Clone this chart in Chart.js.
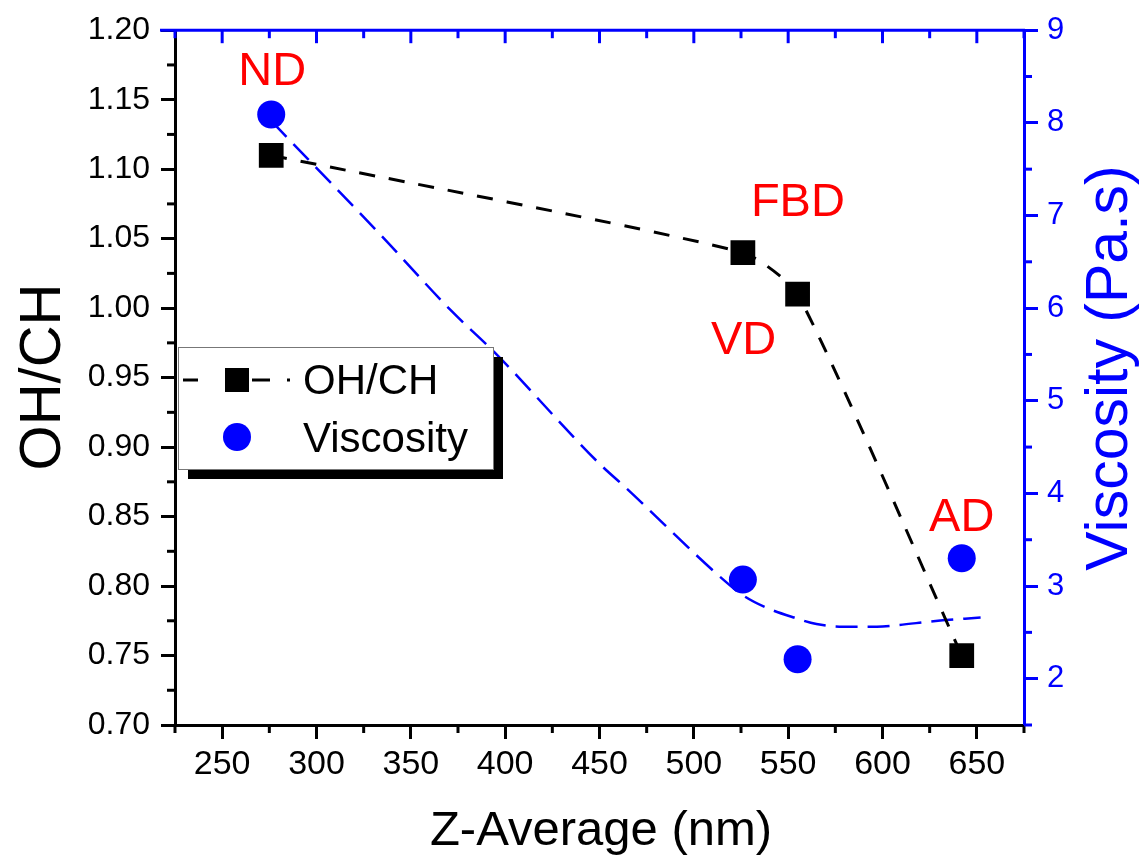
<!DOCTYPE html>
<html>
<head>
<meta charset="utf-8">
<script src="https://cdn.jsdelivr.net/npm/chart.js@4.4.1/dist/chart.umd.min.js"></script>
<style>
    html, body { margin: 0; padding: 0; background: #fff; }
    .wrap { position: relative; width: 1144px; height: 865px; }
</style>
</head>
<body>
<div class="wrap"><canvas id="zavgChart"></canvas></div>
<script>
const zAverage = [276, 526, 555, 642];
const ohCh = [1.11, 1.04, 1.01, 0.75];
const viscosity = [8.09, 3.07, 2.21, 3.30];
const sampleNames = ['ND', 'FBD', 'VD', 'AD'];

// blue dashed fit
const viscFitX = [276, 334, 371, 394, 450, 464, 515, 526, 538, 553, 565, 579, 597, 609, 627, 652];
const viscFitY = [8.02, 6.79, 5.98, 5.53, 4.32, 4.06, 3.08, 2.90, 2.77, 2.66, 2.59, 2.56, 2.56, 2.58, 2.62, 2.66];

const xTicks = [250, 300, 350, 400, 450, 500, 550, 600, 650];
const ohChTicks = [0.70, 0.75, 0.80, 0.85, 0.90, 0.95, 1.00, 1.05, 1.10, 1.15, 1.20];
const viscTicks = [2, 3, 4, 5, 6, 7, 8, 9];

const FONT = '"Liberation Sans", Arial, sans-serif';
const BLUE = '#0000ff';
const RED = '#ff0000';

function minorValues(majors, min, max) {
    const out = [];
    const half = (majors[1] - majors[0]) / 2;
    if (majors[0] - half >= min - 1e-9) out.push(majors[0] - half);
    for (let i = 0; i < majors.length - 1; i++) {
        out.push((majors[i] + majors[i + 1]) / 2);
    }
    const last = majors[majors.length - 1];
    if (last + half <= max + 1e-9) out.push(last + half);
    return out;
}

const decorPlugin = {
    id: 'decor',
    afterDraw(chart) {
        const { ctx, chartArea: area, scales } = chart;
        const xs = scales.x, yl = scales.y, yr = scales.y1;
        ctx.save();
        ctx.lineWidth = 3;
        ctx.setLineDash([]);

        // minor ticks, bottom
        ctx.strokeStyle = '#000';
        minorValues(xTicks, xs.min, xs.max).forEach((v) => {
            const px = xs.getPixelForValue(v);
            ctx.beginPath();
            ctx.moveTo(px, area.bottom);
            ctx.lineTo(px, area.bottom + 8);
            ctx.stroke();
        });
        // minor ticks, left
        minorValues(ohChTicks, yl.min, yl.max).forEach((v) => {
            const py = yl.getPixelForValue(v);
            ctx.beginPath();
            ctx.moveTo(area.left, py);
            ctx.lineTo(area.left - 8, py);
            ctx.stroke();
        });
        // minor ticks, right
        ctx.strokeStyle = BLUE;
        minorValues(viscTicks, yr.min, yr.max).forEach((v) => {
            const py = yr.getPixelForValue(v);
            ctx.beginPath();
            ctx.moveTo(area.right, py);
            ctx.lineTo(area.right + 8, py);
            ctx.stroke();
        });

        // top axis: blue line with inward ticks
        ctx.beginPath();
        ctx.moveTo(area.left - 15, area.top);
        ctx.lineTo(area.right + 1, area.top);
        ctx.stroke();
        xTicks.forEach((v) => {
            const px = xs.getPixelForValue(v);
            ctx.beginPath();
            ctx.moveTo(px, area.top);
            ctx.lineTo(px, area.top + 13);
            ctx.stroke();
        });
        minorValues(xTicks, xs.min, xs.max).forEach((v) => {
            const px = xs.getPixelForValue(v);
            ctx.beginPath();
            ctx.moveTo(px, area.top);
            ctx.lineTo(px, area.top + 8);
            ctx.stroke();
        });

        // sample labels
        const labelOffsets = [
            { axis: 'y1', dx: 1, dy: -30 },
            { axis: 'y', dx: 55, dy: -37 },
            { axis: 'y', dx: -54, dy: 60 },
            { axis: 'y1', dx: 0, dy: -27 }
        ];
        ctx.fillStyle = RED;
        ctx.font = '47px ' + FONT;
        ctx.textAlign = 'center';
        ctx.textBaseline = 'alphabetic';
        sampleNames.forEach((name, i) => {
            const off = labelOffsets[i];
            const val = off.axis === 'y1' ? viscosity[i] : ohCh[i];
            const px = xs.getPixelForValue(zAverage[i]) + off.dx;
            const py = scales[off.axis].getPixelForValue(val) + off.dy;
            ctx.fillText(name, px, py);
        });

        // legend box with shadow
        const lx = area.left + 3, ly = 347, lw = 315, lh = 122;
        ctx.fillStyle = '#000';
        ctx.fillRect(lx + 10, ly + 10, lw, lh);
        ctx.fillStyle = '#fff';
        ctx.fillRect(lx, ly, lw, lh);
        ctx.lineWidth = 1;
        ctx.strokeStyle = '#777';
        ctx.strokeRect(lx + 0.5, ly + 0.5, lw, lh);

        ctx.strokeStyle = '#000';
        ctx.lineWidth = 3;
        [[183, 198], [252, 270], [287, 290]].forEach(([a, b]) => {
            ctx.beginPath();
            ctx.moveTo(a, 380);
            ctx.lineTo(b, 380);
            ctx.stroke();
        });
        ctx.fillStyle = '#000';
        ctx.fillRect(225, 368, 24, 24);
        ctx.fillStyle = BLUE;
        ctx.beginPath();
        ctx.arc(237, 437, 14, 0, Math.PI * 2);
        ctx.fill();

        ctx.fillStyle = '#000';
        ctx.font = '42px ' + FONT;
        ctx.textAlign = 'left';
        ctx.fillText('OH/CH', 303, 394);
        ctx.fillText('Viscosity', 303, 452);

        // axis titles
        ctx.textAlign = 'center';
        ctx.font = '49px ' + FONT;
        ctx.fillText('Z-Average (nm)', 601, 845);

        ctx.save();
        ctx.translate(60, 377);
        ctx.rotate(-Math.PI / 2);
        ctx.font = '58px ' + FONT;
        ctx.fillText('OH/CH', 0, 0);
        ctx.restore();

        ctx.save();
        ctx.translate(1127, 368);
        ctx.rotate(-Math.PI / 2);
        ctx.font = '59px ' + FONT;
        ctx.fillStyle = BLUE;
        ctx.fillText('Viscosity (Pa.s)', 0, 0);
        ctx.restore();

        ctx.restore();
    }
};

const ohChPoints = zAverage.map((x, i) => ({ x, y: ohCh[i] }));
const viscPoints = zAverage.map((x, i) => ({ x, y: viscosity[i] }));
const viscFitPoints = viscFitX.map((x, i) => ({ x, y: viscFitY[i] }));

new Chart(document.getElementById('zavgChart'), {
    type: 'scatter',
    data: {
        datasets: [
            {
                label: 'Viscosity fit',
                data: viscFitPoints,
                yAxisID: 'y1',
                showLine: true,
                borderColor: BLUE,
                borderWidth: 2.5,
                borderDash: [22, 10],
                cubicInterpolationMode: 'monotone',
                pointRadius: 0,
                order: 3
            },
            {
                label: 'OH/CH',
                data: ohChPoints,
                yAxisID: 'y',
                showLine: true,
                borderColor: '#000',
                borderWidth: 3,
                borderDash: [16, 14],
                tension: 0.2,
                pointStyle: 'rect',
                pointRadius: 17.5,
                pointBackgroundColor: '#000',
                pointBorderWidth: 0,
                order: 2
            },
            {
                label: 'Viscosity',
                data: viscPoints,
                yAxisID: 'y1',
                showLine: false,
                pointStyle: 'circle',
                pointRadius: 14,
                pointBackgroundColor: BLUE,
                pointBorderWidth: 0,
                order: 1
            }
        ]
    },
    options: {
        responsive: true,
        maintainAspectRatio: false,
        animation: false,
        layout: { padding: { top: 27, left: 0, right: 0, bottom: 0 } },
        plugins: {
            legend: { display: false },
            tooltip: { enabled: false }
        },
        scales: {
            x: {
                type: 'linear',
                position: 'bottom',
                min: 225,
                max: 675,
                afterBuildTicks: (s) => { s.ticks = xTicks.map((v) => ({ value: v })); },
                afterFit: (s) => { s.height = 140; },
                ticks: {
                    autoSkip: false,
                    maxRotation: 0,
                    padding: 5,
                    color: '#000',
                    font: { family: FONT, size: 34 }
                },
                grid: { drawOnChartArea: false, tickLength: 14, tickWidth: 3, tickColor: '#000' },
                border: { color: '#000', width: 3 }
            },
            y: {
                type: 'linear',
                position: 'left',
                min: 0.70,
                max: 1.20,
                afterBuildTicks: (s) => { s.ticks = ohChTicks.map((v) => ({ value: v })); },
                afterFit: (s) => { s.width = 175; },
                ticks: {
                    autoSkip: false,
                    padding: 11,
                    color: '#000',
                    font: { family: FONT, size: 32 },
                    callback: (v) => Number(v).toFixed(2)
                },
                grid: { drawOnChartArea: false, tickLength: 14, tickWidth: 3, tickColor: '#000' },
                border: { color: '#000', width: 3 }
            },
            y1: {
                type: 'linear',
                position: 'right',
                min: 1.5,
                max: 9,
                afterBuildTicks: (s) => { s.ticks = viscTicks.map((v) => ({ value: v })); },
                afterFit: (s) => { s.width = 120; },
                ticks: {
                    autoSkip: false,
                    padding: 9,
                    color: BLUE,
                    font: { family: FONT, size: 31 },
                    callback: (v) => String(v)
                },
                grid: { drawOnChartArea: false, tickLength: 14, tickWidth: 3, tickColor: BLUE },
                border: { color: BLUE, width: 3 }
            }
        }
    },
    plugins: [decorPlugin]
});
</script>
</body>
</html>
